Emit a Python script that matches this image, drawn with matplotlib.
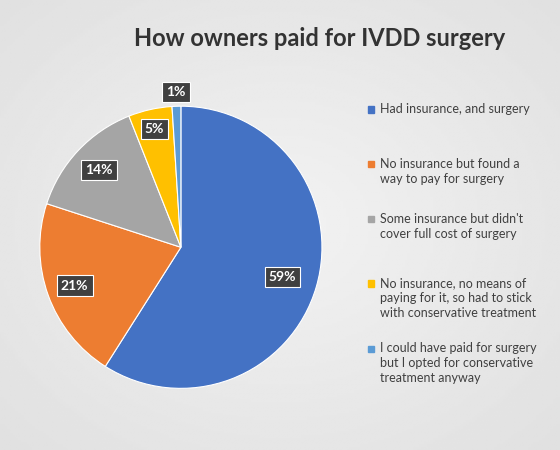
import numpy as np
import matplotlib.pyplot as plt
from matplotlib.patches import Rectangle

plt.rcParams['font.family'] = ['Lato', 'DejaVu Sans']

labels = ["Had insurance, and surgery",
          "No insurance but found a\nway to pay for surgery",
          "Some insurance but didn't\ncover full cost of surgery",
          "No insurance, no means of\npaying for it, so had to stick\nwith conservative treatment",
          "I could have paid for surgery\nbut I opted for conservative\ntreatment anyway"]
values = [59, 21, 14, 5, 1]
colors = ["#4472C4", "#ED7D31", "#A5A5A5", "#FFC000", "#5B9BD5"]
label_r = [0.75, 0.8, 0.8, 0.86, 1.1]

fig = plt.figure(figsize=(5.6, 4.5), dpi=100)

# background gradient
bg = fig.add_axes([0, 0, 1, 1])
yy, xx = np.mgrid[0:1:200j, 0:1:200j]
grad = 0.95 - 0.1 * np.sqrt((xx - 0.5) ** 2 + (yy - 0.5) ** 2)
bg.imshow(grad, cmap="gray", vmin=0, vmax=1, aspect="auto", extent=[0, 1, 0, 1])
bg.axis("off")

fig.text(0.57, 0.915, "How owners paid for IVDD surgery", ha="center", va="center",
         fontsize=17, fontweight="bold", color="#333333")

ax = fig.add_axes([0.071, 0.137, 0.504, 0.627])
wedges, _ = ax.pie(values, colors=colors, startangle=90, counterclock=False,
                   wedgeprops=dict(linewidth=0.8, edgecolor="white"))
for w, v, r in zip(wedges, values, label_r):
    ang = np.deg2rad((w.theta1 + w.theta2) / 2)
    ax.text(r * np.cos(ang), r * np.sin(ang), f"{v}%", ha="center", va="center",
            color="white", fontsize=10, fontweight="bold",
            bbox=dict(boxstyle="square,pad=0.3", fc="#404040", ec="white", lw=0.8))
ax.set_xlim(-1, 1)
ax.set_ylim(-1, 1)
ax.set_aspect("equal")

ys = [0.757, 0.635, 0.513, 0.37, 0.225]
for y, lab, c in zip(ys, labels, colors):
    fig.patches.append(Rectangle((0.657, y - 0.007), 0.011, 0.014, color=c,
                                 transform=fig.transFigure))
    fig.text(0.679, y + 0.014, lab, ha="left", va="top", fontsize=9,
             color="#404040", linespacing=1.3)

fig.savefig("out.png", dpi=100)
